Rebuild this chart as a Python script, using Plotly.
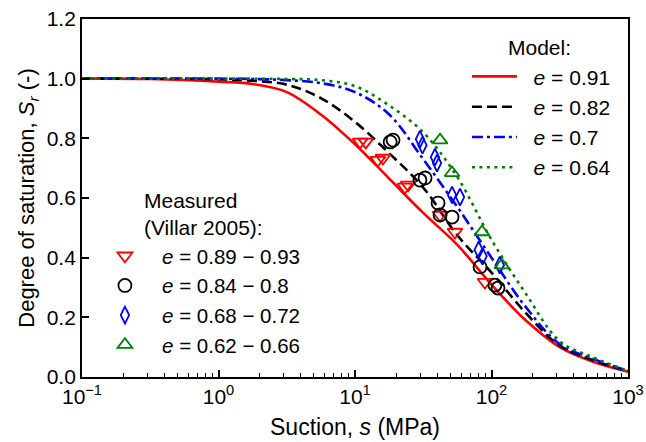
import plotly.graph_objects as go

# ---------------- data ----------------
# model curves
s_model = [0.1, 0.316, 1.0, 1.78, 3.16, 5.62, 10.0, 17.8, 31.6, 56.2, 100.0, 178.0, 316.0, 562.0, 1000.0]
sr_e091 = [1.0, 0.999, 0.99, 0.982, 0.955, 0.88, 0.78, 0.665, 0.55, 0.443, 0.31, 0.19, 0.10, 0.05, 0.018]
sr_e082 = [1.0, 1.0, 0.998, 0.993, 0.98, 0.935, 0.855, 0.75, 0.635, 0.475, 0.35, 0.215, 0.105, 0.055, 0.02]
sr_e070 = [1.0, 1.0, 1.0, 0.999, 0.995, 0.985, 0.955, 0.88, 0.73, 0.57, 0.40, 0.235, 0.11, 0.06, 0.02]
sr_e064 = [1.0, 1.0, 1.0, 1.0, 0.999, 0.995, 0.975, 0.91, 0.82, 0.67, 0.46, 0.28, 0.12, 0.065, 0.02]
model_labels = ["0.91", "0.82", "0.7", "0.64"]

# measured data (Villar 2005)
s_m1 = [10.9, 12.0, 14.7, 16.0, 23.2, 24.5, 42.0, 54.0, 89.6]
sr_m1 = [0.788, 0.788, 0.727, 0.734, 0.637, 0.644, 0.543, 0.486, 0.318]
s_m2 = [18.1, 19.0, 29.9, 32.6, 40.6, 42.0, 51.4, 82.4, 106.0, 111.6]
sr_m2 = [0.788, 0.794, 0.660, 0.667, 0.583, 0.543, 0.536, 0.369, 0.308, 0.298]
s_m3 = [29.9, 31.2, 38.5, 39.9, 51.4, 58.8, 80.5, 86.0, 115.0]
sr_m3 = [0.797, 0.777, 0.737, 0.717, 0.610, 0.603, 0.426, 0.405, 0.375]
s_m4 = [42.0, 51.4, 85.2, 119.0]
sr_m4 = [0.794, 0.684, 0.486, 0.375]
meas_labels = ["0.89 \u2212 0.93", "0.84 \u2212 0.8", "0.68 \u2212 0.72", "0.62 \u2212 0.66"]

x_tickvals = [0.1, 1, 10, 100, 1000]
x_ticktext = ["10<sup>\u22121</sup>", "10<sup>0</sup>", "10<sup>1</sup>", "10<sup>2</sup>", "10<sup>3</sup>"]

# ---------------- figure ----------------
fig = go.Figure()
NB = "\u00a0"

model_series = [sr_e091, sr_e082, sr_e070, sr_e064]
model_colors = ["#ff0000", "#000000", "#0000ff", "#008000"]
model_dash = ["solid", "10px,5px", "11px,4px,3px,4px", "3px,4.5px"]
for i, (ys, c, d, lab) in enumerate(zip(model_series, model_colors, model_dash, model_labels)):
    fig.add_trace(go.Scatter(
        x=s_model, y=ys, mode="lines",
        line=dict(color=c, width=2.6, dash=d, shape="spline", smoothing=1.0),
        name=NB * 2 + "<i>e</i> = " + lab, legend="legend", legendgroup="m%d" % i,
    ))

meas_x = [s_m1, s_m2, s_m3, s_m4]
meas_y = [sr_m1, sr_m2, sr_m3, sr_m4]
meas_sym = ["triangle-down-open", "circle-open", "diamond-tall-open", "triangle-up-open"]
meas_size = [13, 13, 12, 13]
for i, (xs, ys, c, sym, sz, lab) in enumerate(zip(meas_x, meas_y, model_colors, meas_sym, meas_size, meas_labels)):
    fig.add_trace(go.Scatter(
        x=xs, y=ys, mode="markers",
        marker=dict(symbol=sym, size=sz, color=c, line=dict(color=c, width=1.8)),
        name=NB * 3 + "<i>e</i> = " + lab, legend="legend2", legendgroup="d%d" % i,
    ))

font_family = "Liberation Sans, Arial, sans-serif"

fig.update_layout(
    width=646, height=442,
    margin=dict(l=82, r=18, t=19, b=65),
    plot_bgcolor="white", paper_bgcolor="white",
    font=dict(family=font_family, size=21, color="black"),
    showlegend=True,
    legend=dict(
        x=0.705, y=0.896, xanchor="left", yanchor="top",
        bgcolor="rgba(0,0,0,0)", borderwidth=0,
        font=dict(size=21), traceorder="grouped", tracegroupgap=0,
        itemwidth=45,
    ),
    legend2=dict(
        x=0.042, y=0.394, xanchor="left", yanchor="top",
        bgcolor="rgba(0,0,0,0)", borderwidth=0,
        font=dict(size=20.5), traceorder="grouped", tracegroupgap=0,
    ),
    xaxis=dict(
        type="log", range=[-1, 3], automargin=False,
        tickvals=x_tickvals, ticktext=x_ticktext,
        ticks="inside", ticklen=7, tickwidth=1.5, tickcolor="black",
        showline=True, linewidth=1.8, linecolor="black", mirror=True,
        showgrid=False, zeroline=False,
        minor=dict(
            tickvals=[m * 10 ** k for k in range(-1, 3) for m in range(2, 10)],
            ticks="inside", ticklen=4, tickwidth=1, tickcolor="black", showgrid=False,
        ),
        title=dict(text="Suction, <i>s</i> (MPa)", font=dict(size=23), standoff=12),
        tickfont=dict(size=21),
    ),
    yaxis=dict(
        range=[0, 1.2], dtick=0.2, tick0=0, tickformat=".1f", automargin=False,
        ticks="inside", ticklen=7, tickwidth=1.5, tickcolor="black",
        showline=True, linewidth=1.8, linecolor="black", mirror=True,
        showgrid=False, zeroline=False,
        title=dict(text="Degree of saturation, <i>S<sub>r</sub></i> (-)", font=dict(size=22), standoff=6),
        tickfont=dict(size=21),
    ),
)

# legend titles as text placed at pixel positions (converted to paper coordinates)
L, R, T, B = 82, 628, 19, 377
titles = [("Model:", 539, 47, "center"), ("Measured", 142, 200, "left"), ("(Villar 2005):", 142, 227, "left")]
fig.update_layout(annotations=[
    dict(text=t, x=(px - L) / (R - L), y=(B - py) / (B - T), xref="paper", yref="paper",
         xanchor=xa, yanchor="middle", showarrow=False, font=dict(size=21))
    for t, px, py, xa in titles
])

fig.write_html("out.html")
